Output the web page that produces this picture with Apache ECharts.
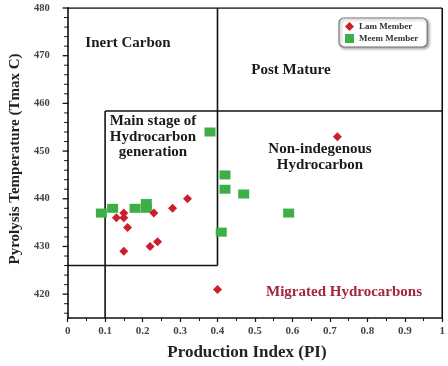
<!DOCTYPE html>
<html>
<head>
<meta charset="utf-8">
<script src="https://cdn.jsdelivr.net/npm/echarts@6/dist/echarts.min.js"></script>
<style>
html,body{margin:0;padding:0;background:#fff;}
#chart{width:448px;height:366px;}
</style>
</head>
<body>
<div id="chart"></div>
<script>
// Data: [PI, Tmax]
const lamMember = [
  [0.15, 437], [0.13, 436], [0.15, 436], [0.16, 434], [0.15, 429],
  [0.22, 430], [0.24, 431], [0.23, 437], [0.28, 438], [0.32, 440],
  [0.40, 421], [0.72, 453]
];
const meemMember = [
  [0.09, 437], [0.12, 438], [0.18, 438], [0.21, 439], [0.21, 438],
  [0.38, 454], [0.42, 445], [0.42, 442], [0.47, 441], [0.59, 437],
  [0.41, 433]
];
// Region boundary lines (data coordinates)
const boundaries = [
  [[0, 480], [1, 480]],
  [[1, 480], [1, 415]],
  [[0.4, 480], [0.4, 426]],
  [[0, 426], [0.4, 426]],
  [[0.1, 458.4], [1, 458.4]],
  [[0.1, 458.4], [0.1, 415]]
];
const xTicks = [0, 0.1, 0.2, 0.3, 0.4, 0.5, 0.6, 0.7, 0.8, 0.9, 1];
const yTicks = [420, 430, 440, 450, 460, 470, 480];

const serif = '"Liberation Serif", "DejaVu Serif", serif';
const chart = echarts.init(document.getElementById('chart'));

const boundarySeries = boundaries.map(seg => ({
  type: 'line',
  data: seg,
  symbol: 'none',
  silent: true,
  lineStyle: { color: '#111', width: 1.6 },
  z: 1,
  animation: false
}));

const option = {
  animation: false,
  grid: { left: 63.5, right: 2, top: 8, bottom: 44 },
  legend: {
    left: 339, top: 18,
    orient: 'vertical',
    data: [
      { name: 'Lam Member', icon: 'diamond' },
      { name: 'Meem Member', icon: 'rect' }
    ],
    itemWidth: 9, itemHeight: 9, itemGap: 3,
    padding: [4, 9, 4, 6],
    backgroundColor: '#fff',
    borderColor: '#777', borderWidth: 1.2, borderRadius: 5,
    shadowColor: 'rgba(0,0,0,0.35)', shadowBlur: 3, shadowOffsetX: 1.5, shadowOffsetY: 1.5,
    textStyle: { fontFamily: serif, fontWeight: 'bold', fontSize: 9, color: '#333' }
  },
  xAxis: {
    type: 'value', min: 0, max: 1, interval: 0.1,
    name: 'Production Index (PI)', nameLocation: 'middle', nameGap: 26,
    nameTextStyle: { fontFamily: serif, fontWeight: 'bold', fontSize: 17, color: '#222', padding: [0, 16, 0, 0] },
    axisLine: { show: true, lineStyle: { color: '#111', width: 1.6 } },
    axisTick: { show: true, length: 4, lineStyle: { color: '#111', width: 1.2 } },
    minorTick: { show: true, splitNumber: 2, length: 3, lineStyle: { color: '#111', width: 1 } },
    splitLine: { show: false },
    axisLabel: {
      fontFamily: serif, fontWeight: 'bold', fontSize: 11, color: '#444', margin: 8,
      formatter: v => { const t = xTicks.find(k => Math.abs(k - v) < 1e-6); return t === undefined ? '' : String(t); }
    }
  },
  yAxis: {
    type: 'value', min: 415, max: 480,
    interval: 5,
    name: 'Pyrolysis Temperature (Tmax C)', nameLocation: 'middle', nameGap: 39, nameRotate: 90,
    nameTextStyle: { fontFamily: serif, fontWeight: 'bold', fontSize: 15, color: '#222', padding: [0, 0, 0, 8] },
    axisLine: { show: true, lineStyle: { color: '#111', width: 1.6 } },
    axisTick: { show: false },
    minorTick: { show: false },
    splitLine: { show: false },
    axisLabel: {
      fontFamily: serif, fontWeight: 'bold', fontSize: 10.5, color: '#444', margin: 18,
      formatter: v => (yTicks.indexOf(v) >= 0 ? String(v) : '')
    }
  },
  series: [
    ...boundarySeries,
    {
      name: 'Meem Member', type: 'scatter', data: meemMember,
      symbol: 'rect', symbolSize: [11, 9],
      itemStyle: { color: '#3daf48', opacity: 1 }, z: 3
    },
    {
      name: 'Lam Member', type: 'scatter', data: lamMember,
      symbol: 'diamond', symbolSize: 9,
      itemStyle: { color: '#cc1e2b', opacity: 1 }, z: 4
    }
  ]
};

chart.setOption(option);

// Major/minor ticks on the y axis, placed through the axis scale
function yTickGraphics() {
  const g = [];
  for (let v = 416; v <= 480; v += 2) {
    const p = chart.convertToPixel({ gridIndex: 0 }, [0, v]);
    const major = (v % 10 === 0);
    g.push({ type: 'line', shape: { x1: p[0] - (major ? 5 : 3.5), y1: p[1], x2: p[0] + 1, y2: p[1] },
      style: { stroke: '#111', lineWidth: major ? 1.3 : 1 }, silent: true });
  }
  return g;
}

const labelStyle = { fontFamily: serif, fontWeight: 'bold', fontSize: 15, fill: '#1a1a1a', align: 'center', verticalAlign: 'middle', lineHeight: 15.5 };
const texts = [
  { x: 128, y: 43, text: 'Inert Carbon' },
  { x: 291, y: 70, text: 'Post Mature' },
  { x: 153, y: 137, text: 'Main stage of\nHydrocarbon\ngeneration' },
  { x: 320, y: 157, text: 'Non-indegenous\nHydrocarbon' },
  { x: 344, y: 292, text: 'Migrated Hydrocarbons', fill: '#a3263a' }
].map(t => ({
  type: 'text', x: t.x, y: t.y, silent: true, z: 10,
  style: Object.assign({}, labelStyle, { text: t.text }, t.fill ? { fill: t.fill } : {})
}));

chart.setOption({ graphic: yTickGraphics().concat(texts) });
</script>
</body>
</html>
